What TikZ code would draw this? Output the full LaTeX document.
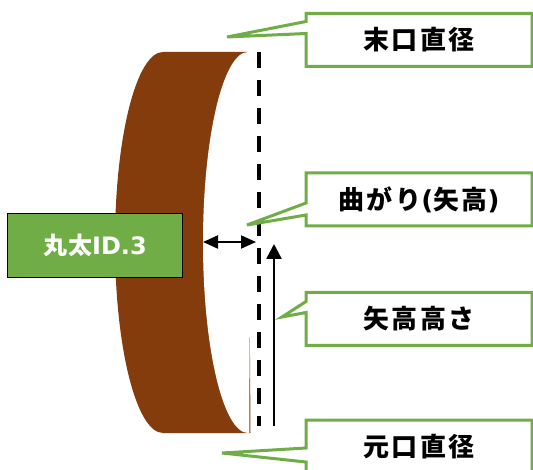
\documentclass[tikz,border=0pt]{standalone}
\usepackage{fontspec}
\newfontfamily\jpfont{Noto Sans CJK JP}[LetterSpace=9]
\newfontfamily\tagfont{Noto Sans CJK JP}[LetterSpace=4]
\newfontfamily\latinfont{DejaVu Sans}
\usetikzlibrary{arrows.meta}

\definecolor{logbrown}{HTML}{843C0C}
\definecolor{tagGreen}{HTML}{70AD47}

\begin{document}
\begin{tikzpicture}[
  x=1pt, y=-1pt,
  notebox/.style={
    rectangle,
    fill=white,
    inner sep=0pt,
    outer sep=0pt,
    minimum width=226pt,
    minimum height=53pt,
    font=\jpfont\bfseries\fontsize{26}{30}\selectfont
  },
  noteline/.style={
    draw=tagGreen,
    line width=3pt,
    line join=miter
  },
  tagbox/.style={
    rectangle,
    draw=black,
    line width=1.5pt,
    fill=tagGreen,
    text=white,
    inner sep=0pt,
    minimum width=175pt,
    minimum height=64pt,
    font=\tagfont\bfseries\fontsize{24}{28}\selectfont
  },
  cutline/.style={
    line width=4pt,
    dash pattern=on 16pt off 12pt
  },
  gapmark/.style={
    line width=2pt,
    {Triangle[length=15pt,width=13pt]}-{Triangle[length=15pt,width=13pt]}
  },
  risemark/.style={
    line width=2.5pt,
    -{Triangle[length=15pt,width=15pt]}
  }]
  \useasboundingbox (0,0) rectangle (533,470);
  \clip (0,0) rectangle (533,470);

  % log seen from the side, bent towards the left
  \fill[logbrown] (163,52) -- (248,52) -- (250.5,433) -- (163,433)
    arc[start angle=90, end angle=270, x radius=48, y radius=190.5];
  \fill[white] (248,52)
    arc[start angle=270, end angle=90, x radius=45, y radius=190.5]
    -- (249.3,433) -- (249.6,350) -- (253,52) -- cycle;

  \coordinate (chord top) at (259,52);
  \coordinate (chord bottom) at (259,426);
  \coordinate (belly) at (203,242);
  \coordinate (belly chord) at (256,242);
  \coordinate (rise foot) at (274,426);
  \coordinate (rise top) at (274,244);
  \draw[cutline] (chord top) -- (chord bottom);
  \draw[gapmark] (belly) -- (belly chord);
  \draw[risemark] (rise foot) -- (rise top);

  % callouts
  \node[notebox] (sueguchi) at (419,40) {末口直径};
  \node[notebox] (magari) at (419,199.5) {曲がり{\latinfont(}矢高{\latinfont)}};
  \node[notebox] (yadaka) at (419,319) {矢高高さ};
  \node[notebox] (motoguchi) at (419,446.5) {元口直径};

  \coordinate (sueguchi tip) at (227,37);
  \coordinate (magari tip) at (247,225);
  \coordinate (yadaka tip) at (282,317);
  \coordinate (motoguchi tip) at (222,453);

  \draw[noteline] (sueguchi.north west) -- ([yshift=-8pt]sueguchi.north west)
    -- (sueguchi tip) -- ([yshift=-20pt]sueguchi.north west)
    -- (sueguchi.south west) -- (sueguchi.south east)
    -- (sueguchi.north east) -- cycle;
  \draw[noteline] (magari.north west) -- ([yshift=-30pt]magari.north west)
    -- (magari tip) -- ([yshift=-42pt]magari.north west)
    -- (magari.south west) -- (magari.south east)
    -- (magari.north east) -- cycle;
  \draw[noteline] (yadaka.north west) -- ([yshift=-9pt]yadaka.north west)
    -- (yadaka tip) -- ([yshift=-20pt]yadaka.north west)
    -- (yadaka.south west) -- (yadaka.south east)
    -- (yadaka.north east) -- cycle;
  \draw[noteline] (motoguchi.north west) -- ([yshift=-28pt]motoguchi.north west)
    -- (motoguchi tip) -- ([yshift=-42pt]motoguchi.north west)
    -- (motoguchi.south west) -- (motoguchi.south east)
    -- (motoguchi.north east) -- cycle;

  \node[tagbox] (tag) at (95,245.5) {丸太{\latinfont ID.3}};
\end{tikzpicture}
\end{document}
